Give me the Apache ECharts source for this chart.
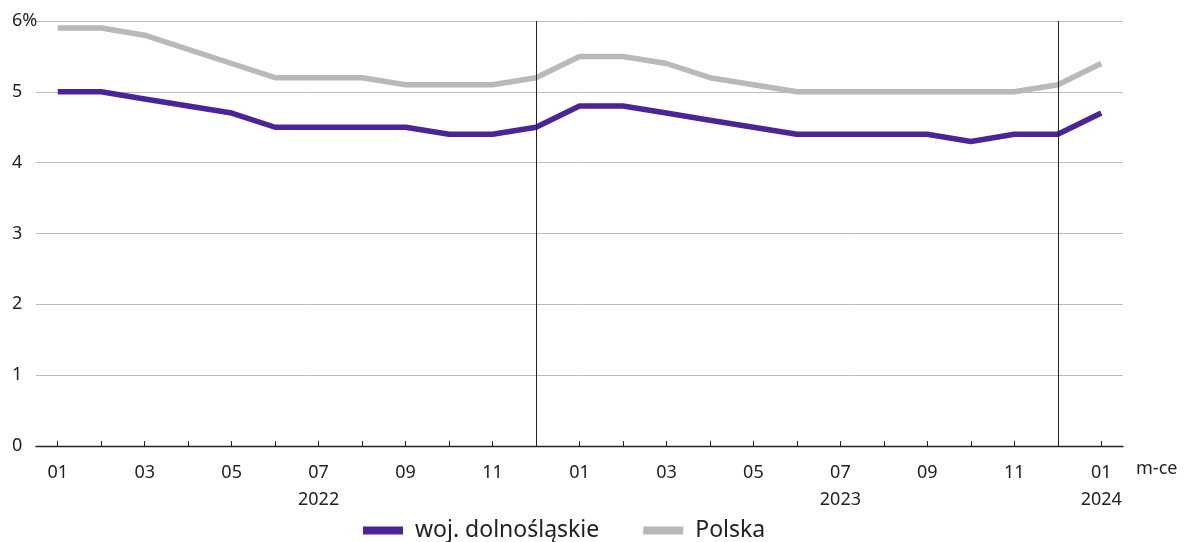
<!DOCTYPE html>
<html>
<head>
<meta charset="utf-8">
<script src="https://cdn.jsdelivr.net/npm/echarts@6/dist/echarts.min.js"></script>
<style>
html,body{margin:0;padding:0;background:#fff;}
#chart{width:1186px;height:542px;}
</style>
</head>
<body>
<div id="chart"></div>
<script>
var months = ['2022-01','2022-02','2022-03','2022-04','2022-05','2022-06','2022-07','2022-08','2022-09','2022-10','2022-11','2022-12',
              '2023-01','2023-02','2023-03','2023-04','2023-05','2023-06','2023-07','2023-08','2023-09','2023-10','2023-11','2023-12',
              '2024-01'];
var yearLabels = {'2022-07':'2022','2023-07':'2023','2024-01':'2024'};
var yearSeparators = ['2022-12','2023-12'];
var dolnoslaskie = [5.0,5.0,4.9,4.8,4.7,4.5,4.5,4.5,4.5,4.4,4.4,4.5,
                    4.8,4.8,4.7,4.6,4.5,4.4,4.4,4.4,4.4,4.3,4.4,4.4,
                    4.7];
var polska = [5.9,5.9,5.8,5.6,5.4,5.2,5.2,5.2,5.1,5.1,5.1,5.2,
              5.5,5.5,5.4,5.2,5.1,5.0,5.0,5.0,5.0,5.0,5.0,5.1,
              5.4];
var seriesNames = ['woj. dolnośląskie','Polska'];
var xAxisName = 'm-ce';

var FONT = 'Noto Sans';
var chart = echarts.init(document.getElementById('chart'));
chart.setOption({
  animation: false,
  textStyle: {fontFamily: FONT},
  grid: {left: 36, right: 63, top: 21, bottom: 96},
  legend: {
    top: 514, left: 358,
    itemWidth: 40, itemHeight: 8, itemGap: 44,
    icon: 'rect',
    textStyle: {fontSize: 23, color: '#222', fontFamily: FONT, padding: [0,0,0,7]},
    data: seriesNames
  },
  xAxis: {
    type: 'category',
    data: months,
    boundaryGap: true,
    name: xAxisName,
    nameLocation: 'end',
    nameGap: 13,
    nameTextStyle: {fontSize: 18, color: '#222', align: 'left', verticalAlign: 'top', padding: [14,0,0,0]},
    axisLine: {lineStyle: {color: '#222', width: 1.3}},
    axisTick: {show: true, inside: true, length: 5, alignWithLabel: true, interval: 0, lineStyle: {color: '#222'}},
    axisLabel: {
      interval: 1, margin: 13, fontSize: 18, color: '#222', lineHeight: 27,
      formatter: function (v) {
        var m = v.split('-')[1];
        return yearLabels[v] ? m + '\n' + yearLabels[v] : m;
      }
    },
    splitLine: {show: false}
  },
  yAxis: {
    type: 'value',
    min: 0, max: 6, interval: 1,
    axisLine: {show: false},
    axisTick: {show: false},
    axisLabel: {
      fontSize: 18, color: '#222', align: 'left', margin: 24,
      formatter: function (v) { return v === 6 ? '6%' : String(v); }
    },
    splitLine: {lineStyle: {color: '#bdbdbd', width: 1}}
  },
  series: [
    {
      name: seriesNames[0], type: 'line', data: dolnoslaskie,
      symbol: 'none', smooth: false, z: 3,
      lineStyle: {color: '#4b2597', width: 5.5},
      itemStyle: {color: '#4b2597'},
      markLine: {
        silent: true, symbol: 'none', label: {show: false},
        lineStyle: {color: '#222', width: 1, type: 'solid'},
        data: yearSeparators.map(function (m) { return {xAxis: m}; })
      }
    },
    {
      name: seriesNames[1], type: 'line', data: polska,
      symbol: 'none', smooth: false, z: 2,
      lineStyle: {color: '#b9b9b9', width: 5.5},
      itemStyle: {color: '#b9b9b9'}
    }
  ]
});
</script>
</body>
</html>
